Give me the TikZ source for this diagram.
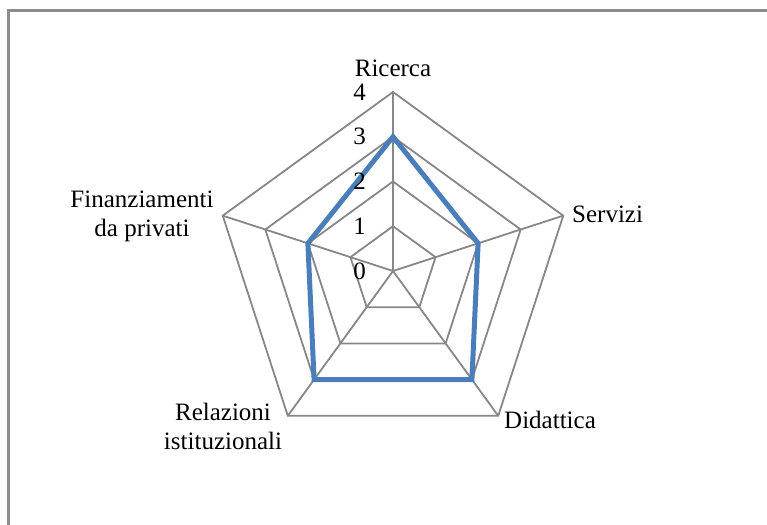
\documentclass[tikz,border=0pt]{standalone}
\usepackage{fontspec}
\setmainfont{Liberation Serif}
\definecolor{gridgray}{HTML}{878787}
\definecolor{framegray}{HTML}{8C8C8C}
\definecolor{seriesblue}{HTML}{4A7EBB}
\begin{document}
\begin{tikzpicture}[x=1pt,y=1pt,
  gridline/.style={draw=gridgray,line width=1.8pt},
  seriesline/.style={draw=seriesblue,line width=5pt,line join=miter},
  lbl/.style={font=\fontsize{25}{29}\selectfont,inner sep=0pt,align=center},
  frameline/.style={draw=framegray,line width=2.2pt}]
\useasboundingbox (0,0) rectangle (767,524);
\coordinate (fa) at (8.5,-5);
\coordinate (fb) at (8.5,513.5);
\coordinate (fc) at (780,513.5);
\draw[frameline] (fa) -- (fb) -- (fc);
\begin{scope}[shift={(393,253)}]
  \coordinate (C) at (0,0);
  \foreach \l in {1,2,3,4}{
    \draw[gridline] (90:{\l*44.75}) -- (18:{\l*44.75}) -- (-54:{\l*44.75}) -- (-126:{\l*44.75}) -- (162:{\l*44.75}) -- cycle;
  }
  \foreach \a/\n in {90/r,18/s,-54/d,-126/i,162/f}{
    \coordinate (ax\n) at (\a:179);
    \draw[gridline] (C) -- (ax\n);
  }
  \coordinate (pr) at (90:134.25);
  \coordinate (ps) at (18:89.5);
  \coordinate (pd) at (-54:134.25);
  \coordinate (pi) at (-126:134.25);
  \coordinate (pf) at (162:89.5);
  \draw[seriesline] (pr) -- (ps) -- (pd) -- (pi) -- (pf) -- cycle;
  \foreach \l in {0,1,2,3,4}{
    \node[lbl,anchor=east] (lv\l) at (-27,{\l*44.75}) {\l};
  }
  \node[lbl,anchor=base] (ric) at (0,194) {Ricerca};
  \node[lbl,anchor=base west] (ser) at (179,48) {Servizi};
  \node[lbl,anchor=base west] (did) at (111,-158) {Didattica};
  \node[lbl] (rel) at (-170,-155) {Relazioni\\istituzionali};
  \node[lbl] (fin) at (-251,55) {Finanziamenti\\da privati};
\end{scope}
\end{tikzpicture}
\end{document}
